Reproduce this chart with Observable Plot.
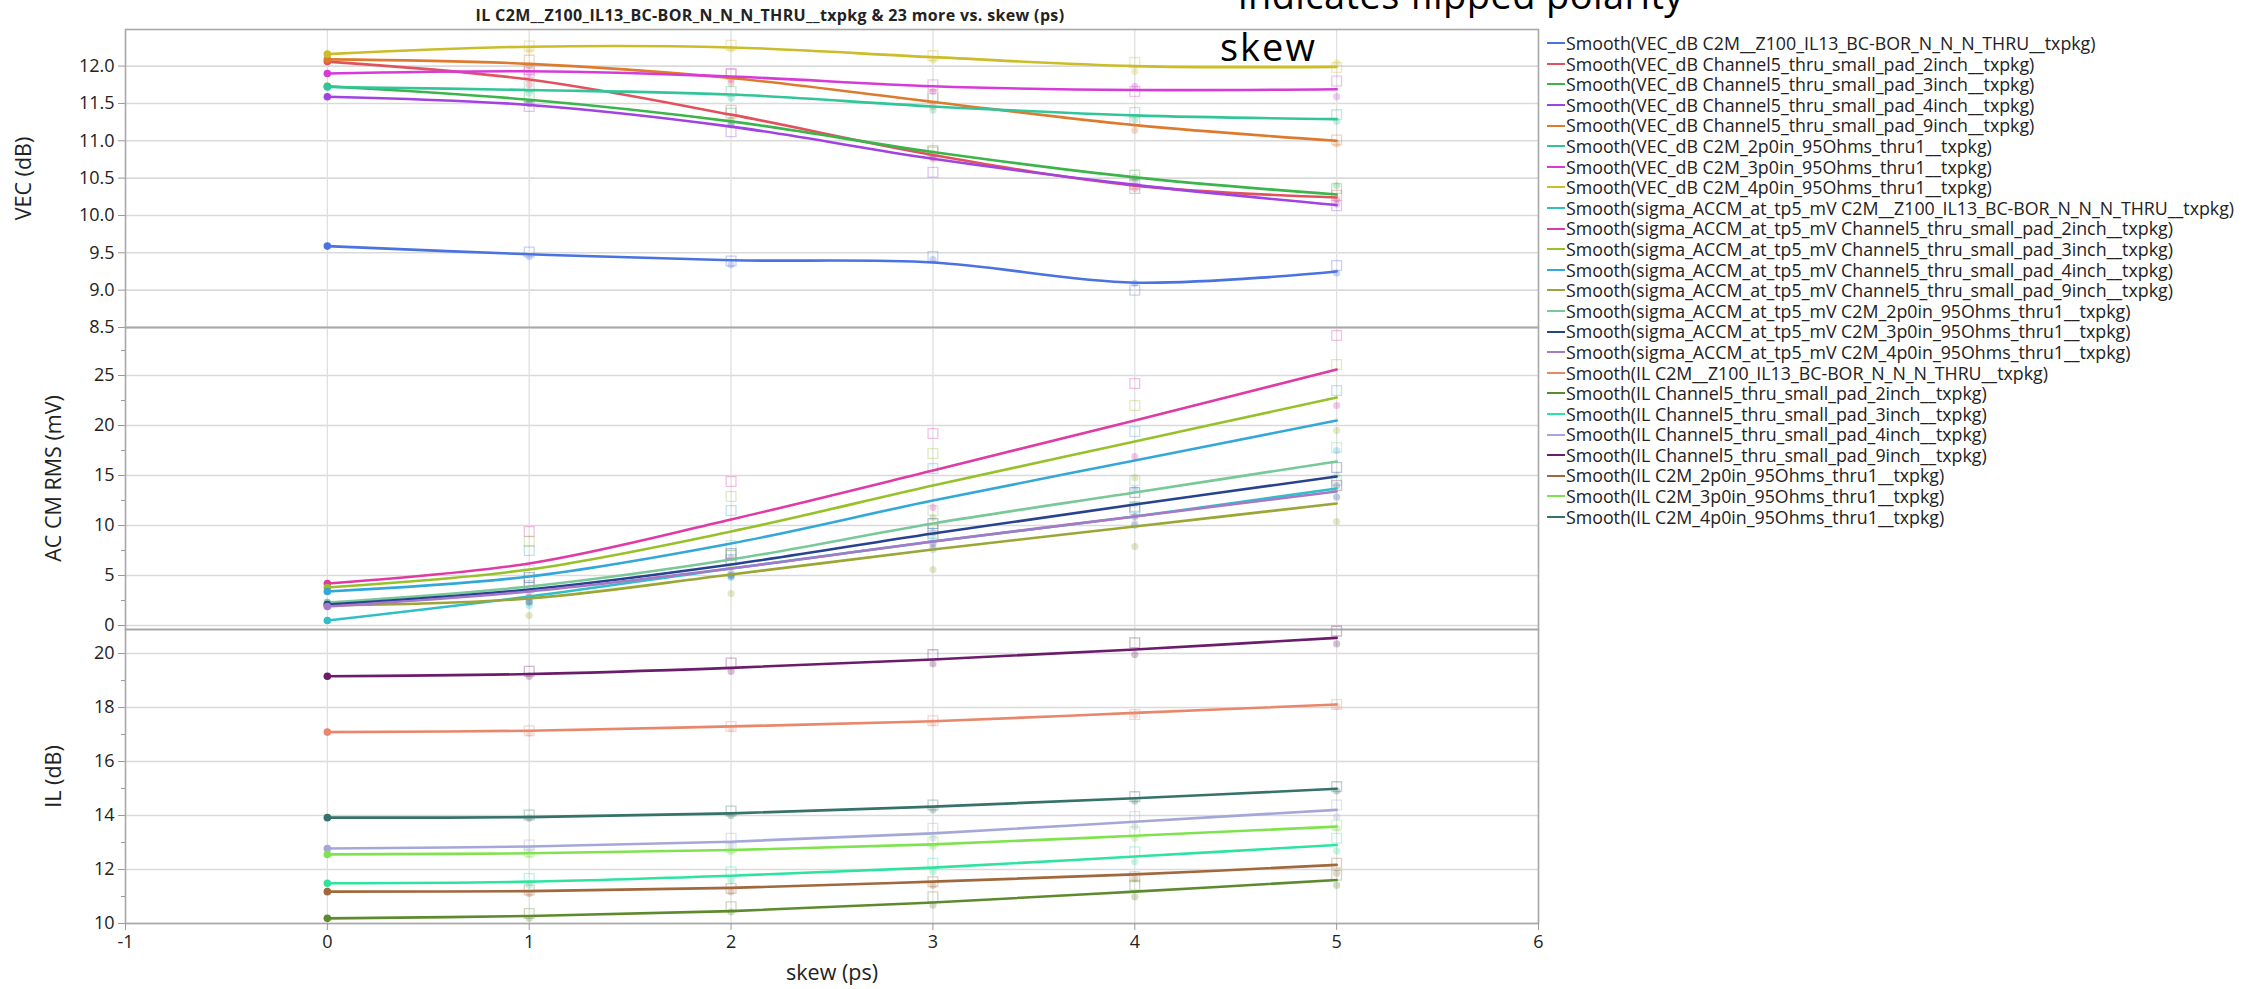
<!DOCTYPE html>
<html><head><meta charset="utf-8">
<script src="https://cdn.jsdelivr.net/npm/d3@7"></script>
<script src="https://cdn.jsdelivr.net/npm/@observablehq/plot@0.6"></script>
<style>
body{margin:0;background:#fff;font-family:"Open Sans",sans-serif;}
#root{position:relative;width:2257px;height:989px;overflow:hidden;background:#fff;}
.panel{position:absolute;left:0;}
.panel svg{overflow:visible;}
#title{position:absolute;top:4px;left:770px;transform:translateX(-50%);font-weight:bold;font-size:16px;letter-spacing:0.35px;color:#222;white-space:nowrap;}
.note{position:absolute;font-size:38px;color:#000;white-space:nowrap;line-height:38px;}
#legend{position:absolute;left:1547px;top:33px;font-size:17.8px;color:#222;}
.row{height:20.6px;line-height:20.6px;white-space:nowrap;display:flex;align-items:center;}
.sw{display:inline-block;width:18px;height:0;border-top:2.5px solid;margin-right:1px;}
</style></head><body><div id="root"></div>
<script>
// ---------------- data ----------------
const skew = [0, 1, 2, 3, 4, 5];
const devices = [
  "C2M__Z100_IL13_BC-BOR_N_N_N_THRU__txpkg",
  "Channel5_thru_small_pad_2inch__txpkg",
  "Channel5_thru_small_pad_3inch__txpkg",
  "Channel5_thru_small_pad_4inch__txpkg",
  "Channel5_thru_small_pad_9inch__txpkg",
  "C2M_2p0in_95Ohms_thru1__txpkg",
  "C2M_3p0in_95Ohms_thru1__txpkg",
  "C2M_4p0in_95Ohms_thru1__txpkg"
];
const titleText = "IL C2M__Z100_IL13_BC-BOR_N_N_N_THRU__txpkg & 23 more vs. skew (ps)";

// VEC (dB)
const vecColors = ["#4a72e0", "#e0535e", "#3bb54a", "#a043e0", "#dd7a2e", "#33c59a", "#d63ad8", "#cbbd2a"];
const vecSmooth = [
  [9.59, 9.48, 9.40, 9.37, 9.10, 9.25],
  [12.06, 11.82, 11.35, 10.81, 10.40, 10.24],
  [11.73, 11.55, 11.26, 10.85, 10.51, 10.28],
  [11.59, 11.48, 11.19, 10.76, 10.41, 10.14],
  [12.09, 12.03, 11.84, 11.52, 11.21, 11.00],
  [11.72, 11.68, 11.62, 11.46, 11.34, 11.29],
  [11.90, 11.93, 11.86, 11.73, 11.68, 11.69],
  [12.16, 12.26, 12.25, 12.12, 12.00, 11.99]
];
const vecSquare = [
  [9.51, 9.39, 9.45, 9.00, 9.33],
  [11.91, 11.41, 10.85, 10.42, 10.27],
  [11.59, 11.37, 10.87, 10.54, 10.36],
  [11.46, 11.12, 10.58, 10.36, 10.13],
  [12.08, 11.89, 11.60, 11.28, 11.01],
  [11.73, 11.66, 11.57, 11.38, 11.35],
  [11.95, 11.90, 11.75, 11.66, 11.80],
  [12.27, 12.28, 12.14, 12.05, 11.98]
];
const vecCircle = [
  [9.45, 9.34, 9.41, 9.09, 9.23],
  [11.75, 11.28, 10.76, 10.36, 10.22],
  [11.50, 11.21, 10.83, 10.51, 10.40],
  [11.50, 11.23, 10.78, 10.45, 10.15],
  [12.00, 11.77, 11.46, 11.14, 10.96],
  [11.64, 11.57, 11.41, 11.28, 11.26],
  [11.90, 11.82, 11.66, 11.73, 11.59],
  [12.22, 12.23, 12.08, 11.93, 12.04]
];
const vecTicks = [8.5, 9.0, 9.5, 10.0, 10.5, 11.0, 11.5, 12.0];

// AC CM RMS (mV)
const accmColors = ["#30bfc6", "#e03aa4", "#98c02a", "#33a8d8", "#9aa635", "#78c898", "#27428f", "#a678c8"];
const accmSmooth = [
  [0.5, 2.9, 5.7, 8.4, 10.9, 13.7],
  [4.2, 6.2, 10.6, 15.5, 20.5, 25.6],
  [3.8, 5.6, 9.4, 14.0, 18.4, 22.8],
  [3.4, 4.9, 8.2, 12.5, 16.5, 20.5],
  [2.0, 2.7, 5.1, 7.6, 9.9, 12.2],
  [2.3, 3.9, 6.6, 10.2, 13.3, 16.4],
  [2.1, 3.6, 6.1, 9.2, 12.1, 14.9],
  [1.9, 3.4, 5.7, 8.4, 10.9, 13.4]
];
const accmSquare = [
  [3.8, 6.6, 9.2, 11.8, 14.5],
  [9.4, 14.4, 19.2, 24.2, 29.0],
  [8.4, 12.9, 17.2, 22.0, 26.1],
  [7.5, 11.5, 15.7, 19.4, 23.5],
  [4.4, 7.0, 9.6, 11.9, 14.0],
  [5.5, 8.0, 11.5, 14.5, 17.8],
  [4.8, 7.2, 10.2, 13.3, 15.8],
  [4.0, 6.2, 9.0, 11.6, 14.0]
];
const accmCircle = [
  [2.0, 4.8, 7.6, 10.0, 12.9],
  [3.0, 6.8, 11.8, 16.9, 22.0],
  [2.8, 5.9, 10.8, 14.8, 19.5],
  [2.3, 4.9, 9.3, 13.6, 17.5],
  [1.0, 3.2, 5.6, 7.9, 10.4],
  [2.3, 5.2, 8.9, 12.1, 15.0],
  [2.4, 5.0, 8.2, 10.9, 14.0],
  [2.8, 5.2, 7.8, 10.2, 12.8]
];
const accmTicks = [0, 5, 10, 15, 20, 25];
const accmMinor = [2.5, 7.5, 12.5, 17.5, 22.5, 27.5];

// IL (dB)
const ilColors = ["#e8876b", "#5e8a2e", "#2ee3a0", "#a4a8d8", "#6b1d6b", "#a0683c", "#7fe34f", "#36716a"];
const ilSmooth = [
  [17.09, 17.14, 17.30, 17.49, 17.80, 18.11],
  [10.19, 10.28, 10.46, 10.78, 11.18, 11.61],
  [11.49, 11.55, 11.77, 12.07, 12.48, 12.91],
  [12.78, 12.85, 13.03, 13.34, 13.77, 14.21],
  [19.16, 19.24, 19.47, 19.78, 20.15, 20.58],
  [11.18, 11.20, 11.32, 11.55, 11.82, 12.17],
  [12.56, 12.60, 12.72, 12.93, 13.25, 13.59],
  [13.92, 13.94, 14.08, 14.33, 14.64, 14.99]
];
const ilSquare = [
  [17.14, 17.30, 17.51, 17.74, 18.11],
  [10.37, 10.62, 10.99, 11.42, 11.79],
  [11.67, 11.92, 12.23, 12.66, 13.16],
  [12.91, 13.16, 13.53, 13.96, 14.39],
  [19.34, 19.65, 19.96, 20.40, 20.83],
  [11.24, 11.30, 11.55, 11.73, 12.23],
  [12.66, 12.81, 13.03, 13.40, 13.65],
  [14.02, 14.17, 14.39, 14.70, 15.07]
];
const ilCircle = [
  [17.05, 17.22, 17.43, 17.74, 18.05],
  [10.19, 10.43, 10.68, 10.99, 11.42],
  [11.42, 11.61, 11.92, 12.29, 12.69],
  [12.72, 12.85, 13.16, 13.59, 13.96],
  [19.16, 19.34, 19.62, 19.96, 20.36],
  [11.11, 11.18, 11.42, 11.67, 11.86],
  [12.54, 12.66, 12.85, 13.16, 13.53],
  [13.90, 14.00, 14.21, 14.54, 14.91]
];
const ilTicks = [10, 12, 14, 16, 18, 20];
const ilMinor = [11, 13, 15, 17, 19];

const xTicks = [-1, 0, 1, 2, 3, 4, 5, 6];
const legendGroups = [
  {prefix: "VEC_dB", colors: vecColors},
  {prefix: "sigma_ACCM_at_tp5_mV", colors: accmColors},
  {prefix: "IL", colors: ilColors}
];

// ---------------- drawing ----------------
const root = document.getElementById("root");
const FONT = "'Open Sans', sans-serif";

function panel({smooth, square, circle, colors, domain, ticks, minor, fmt, label, labelOffset, top, frameH, xAxis}) {
  const lines = [], first = [], sq = [], ci = [];
  smooth.forEach((vals, i) => vals.forEach((v, j) => lines.push({s: i, x: skew[j], y: v})));
  smooth.forEach((vals, i) => first.push({s: i, x: skew[0], y: vals[0]}));
  square.forEach((vals, i) => vals.forEach((v, j) => sq.push({s: i, x: skew[j + 1], y: v})));
  circle.forEach((vals, i) => vals.forEach((v, j) => ci.push({s: i, x: skew[j + 1], y: v})));
  const marginBottom = xAxis ? 66 : 0;
  const marks = [
    Plot.gridY(ticks, {stroke: "#dadada", strokeOpacity: 1, strokeWidth: 1.6}),
    Plot.gridX(skew, {stroke: "#e0e0e0", strokeOpacity: 1, strokeWidth: 1.3}),
    Plot.axisY(ticks, {tickSize: 7, tickPadding: 4, tickFormat: fmt, stroke: "#999", fill: "#222", fontSize: 18, label: null}),
    Plot.axisY([], {tickSize: 0, fill: "#222", fontSize: 21.5,
      label, labelAnchor: "center", labelArrow: "none", labelOffset}),
    Plot.dot(ci, {x: "x", y: "y", fill: "s", fillOpacity: 0.28, r: 3.6, stroke: null}),
    Plot.dot(sq, {x: "x", y: "y", stroke: "s", strokeOpacity: 0.32, fill: "none", symbol: "square", r: 5.5, strokeWidth: 1.3}),
    Plot.line(lines, {x: "x", y: "y", z: "s", stroke: "s", strokeWidth: 2.6, curve: "catmull-rom"}),
    Plot.dot(first, {x: "x", y: "y", fill: "s", r: 3.8}),
    Plot.frame({stroke: "#a8a8a8", strokeWidth: 1.6})
  ];
  if (minor) marks.push(Plot.axisY(minor, {tickSize: 4, tickFormat: () => "", stroke: "#999", label: null}));
  if (xAxis) {
    marks.push(Plot.axisX(xTicks, {tickSize: 7, tickPadding: 5, tickFormat: d => String(d), stroke: "#999", fill: "#222", fontSize: 18, label: null}));
    marks.push(Plot.axisX([], {tickSize: 0, fill: "#222", fontSize: 21.5,
      label: "skew (ps)", labelAnchor: "center", labelArrow: "none", labelOffset: 56}));
  } else marks.push(Plot.axisX([], {label: null}));
  const p = Plot.plot({
    width: 1545, height: frameH + marginBottom,
    marginLeft: 125, marginRight: 7, marginTop: 0, marginBottom,
    x: {domain: [-1, 6]},
    y: {domain},
    color: {type: "ordinal", domain: d3.range(8), range: colors},
    style: {fontFamily: FONT, fontSize: "18px", color: "#222", background: "transparent", overflow: "visible"},
    marks
  });
  const d = document.createElement("div");
  d.className = "panel";
  d.style.top = top + "px";
  d.appendChild(p);
  root.appendChild(d);
}

panel({smooth: vecSmooth, square: vecSquare, circle: vecCircle, colors: vecColors,
  domain: [8.5, 12.49], ticks: vecTicks, minor: null, fmt: d3.format(".1f"),
  label: "VEC (dB)", labelOffset: 110, top: 29, frameH: 298, xAxis: false});
panel({smooth: accmSmooth, square: accmSquare, circle: accmCircle, colors: accmColors,
  domain: [-0.4, 29.8], ticks: accmTicks, minor: accmMinor, fmt: d => String(d),
  label: "AC CM RMS (mV)", labelOffset: 80, top: 327, frameH: 302, xAxis: false});
panel({smooth: ilSmooth, square: ilSquare, circle: ilCircle, colors: ilColors,
  domain: [10, 20.89], ticks: ilTicks, minor: ilMinor, fmt: d => String(d),
  label: "IL (dB)", labelOffset: 80, top: 629, frameH: 294, xAxis: true});

// title & notes
const t = document.createElement("div");
t.id = "title"; t.textContent = titleText; root.appendChild(t);
const n1 = document.createElement("div");
n1.className = "note"; n1.textContent = "indicates flipped polarity";
n1.style.left = "1238px"; n1.style.top = "-25px"; n1.style.letterSpacing = "0.4px"; root.appendChild(n1);
const n2 = document.createElement("div");
n2.className = "note"; n2.textContent = "skew";
n2.style.left = "1220px"; n2.style.top = "27px"; n2.style.letterSpacing = "2px"; root.appendChild(n2);

// legend
const lg = document.createElement("div");
lg.id = "legend";
legendGroups.forEach(g => devices.forEach((dev, i) => {
  const r = document.createElement("div"); r.className = "row";
  const s = document.createElement("span"); s.className = "sw"; s.style.borderColor = g.colors[i];
  const tx = document.createElement("span"); tx.textContent = `Smooth(${g.prefix} ${dev})`;
  r.appendChild(s); r.appendChild(tx); lg.appendChild(r);
}));
root.appendChild(lg);
</script></body></html>
